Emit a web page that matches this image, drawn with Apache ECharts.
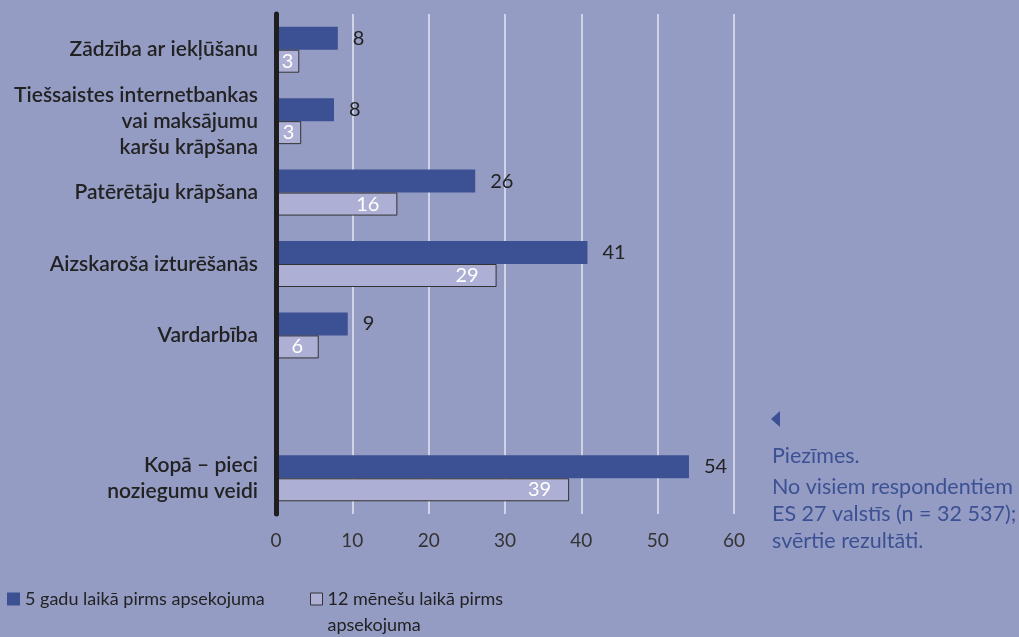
<!DOCTYPE html>
<html>
<head>
<meta charset="utf-8">
<script src="https://cdn.jsdelivr.net/npm/echarts@6/dist/echarts.min.js"></script>
<style>
  html, body { margin: 0; padding: 0; background: #959cc4; }
  #main { width: 1019px; height: 637px; }
</style>
</head>
<body>
<div id="main"></div>
<script>
// kategorijas (tukšā rinda atdala kopsummu)
const categories = [
  "Zādzība ar iekļūšanu",
  "Tiešsaistes internetbankas\nvai maksājumu\nkaršu krāpšana",
  "Patērētāju krāpšana",
  "Aizskaroša izturēšanās",
  "Vardarbība",
  "",
  "Kopā – pieci\nnoziegumu veidi"
];
// stabiņu garumi, nolasīti no attēla
const fiveYears = [8.1, 7.6, 26.1, 40.8, 9.4, null, 54.1];
const twelveMonths = [3.05, 3.3, 15.9, 28.9, 5.6, null, 38.4];
// uzraksti pie stabiņiem
const fiveYearsLabels = [8, 8, 26, 41, 9, null, 54];
const twelveMonthsLabels = [3, 3, 16, 29, 6, null, 39];
const xTicks = [0, 10, 20, 30, 40, 50, 60];

const seriesNames = ["5 gadu laikā pirms apsekojuma", "12 mēnešu laikā pirms\napsekojuma"];
const font = "Lato, 'Open Sans', sans-serif";
const darkBlue = "#3c5193";
const lightBar = "#aeafd4";

var myChart = echarts.init(document.getElementById("main"));

var option = {
  backgroundColor: "#959cc4",
  animation: false,
  grid: { left: 276, right: 285, top: 14, bottom: 123 },
  xAxis: {
    type: "value",
    min: xTicks[0],
    max: xTicks[xTicks.length - 1],
    interval: 10,
    axisLine: { show: false },
    axisTick: { show: false },
    axisLabel: {
      margin: 17,
      color: "#333",
      fontSize: 19,
      fontFamily: font
    },
    splitLine: {
      lineStyle: { color: "#e4e6f1", width: 1.5 }
    }
  },
  yAxis: {
    type: "category",
    inverse: true,
    data: categories,
    z: 10,
    axisLine: { lineStyle: { color: "#1e1e1e", width: 5 } },
    axisTick: { show: false },
    axisLabel: {
      margin: 18,
      color: "#222",
      fontSize: 21,
      fontWeight: 600,
      lineHeight: 26,
      fontFamily: font
    }
  },
  legend: [
    {
      left: 7,
      top: 586,
      padding: 0,
      data: [{ name: seriesNames[0], icon: "rect" }],
      itemWidth: 13,
      itemHeight: 13,
      textStyle: { color: "#222", fontSize: 18, fontFamily: font, lineHeight: 26 }
    },
    {
      left: 310,
      top: 560,
      padding: 0,
      data: [{ name: seriesNames[1], icon: "rect" }],
      itemWidth: 12,
      itemHeight: 12,
      itemStyle: { borderColor: "#333", borderWidth: 1 },
      // tukša rinda augšā, lai ikona būtu pretī pirmajai rindai
      formatter: (name) => "\n" + name,
      textStyle: { color: "#222", fontSize: 18, fontFamily: font, lineHeight: 26 }
    }
  ],
  series: [
    {
      name: seriesNames[0],
      type: "bar",
      data: fiveYears,
      barWidth: 23,
      barGap: "0%",
      itemStyle: { color: darkBlue },
      label: {
        show: true,
        position: "right",
        distance: 15,
        color: "#222",
        fontSize: 20,
        fontFamily: font,
        formatter: (p) => fiveYearsLabels[p.dataIndex]
      }
    },
    {
      name: seriesNames[1],
      type: "bar",
      data: twelveMonths.map((v, i) =>
        v !== null && v < 10
          ? { value: v, label: { position: "inside" } }
          : v
      ),
      barWidth: 23,
      barGap: "0%",
      itemStyle: { color: lightBar, borderColor: "#333", borderWidth: 1 },
      label: {
        show: true,
        position: "insideRight",
        distance: 18,
        color: "#fff",
        fontSize: 20,
        fontFamily: font,
        formatter: (p) => twelveMonthsLabels[p.dataIndex]
      }
    }
  ],
  graphic: [
    {
      type: "polygon",
      shape: { points: [[780, 411], [780, 427], [771, 419]] },
      style: { fill: darkBlue }
    },
    {
      type: "text",
      left: 772,
      top: 445,
      style: {
        text: "Piezīmes.",
        fill: darkBlue,
        font: "21.5px " + font
      }
    },
    {
      type: "text",
      left: 772,
      top: 474,
      style: {
        text: "No visiem respondentiem\nES 27 valstīs (n = 32 537);\nsvērtie rezultāti.",
        fill: darkBlue,
        font: "21.5px " + font,
        lineHeight: 27
      }
    }
  ]
};

option && myChart.setOption(option);
</script>
</body>
</html>
